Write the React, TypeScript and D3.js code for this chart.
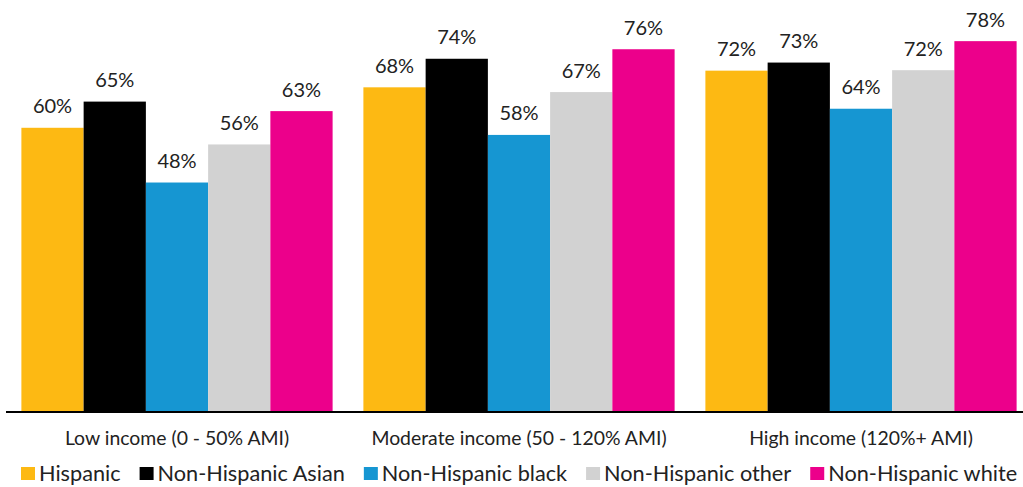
import React, { useEffect, useRef } from "react";
import * as d3 from "d3";

const categories = ["Low income (0 - 50% AMI)", "Moderate income (50 - 120% AMI)", "High income (120%+ AMI)"];
const series = ["Hispanic", "Non-Hispanic Asian", "Non-Hispanic black", "Non-Hispanic other", "Non-Hispanic white"];
const colors = ["#fdb913", "#000000", "#1696d2", "#d2d2d2", "#ec008b"];
const hispanic = [0.595, 0.68, 0.715];
const asian = [0.65, 0.74, 0.732];
const black = [0.48, 0.58, 0.635];
const other = [0.56, 0.67, 0.716];
const white = [0.63, 0.76, 0.777];
const labels = [
  ["60%", "68%", "72%"],
  ["65%", "74%", "73%"],
  ["48%", "58%", "64%"],
  ["56%", "67%", "72%"],
  ["63%", "76%", "78%"],
];

const W = 1023;
const H = 487;
const FONT = "Lato, 'Open Sans', sans-serif";

export default function App() {
  const ref = useRef<SVGSVGElement>(null);
  useEffect(() => {
    const svg = d3.select(ref.current);
    svg.selectAll("*").remove();
    const values = [hispanic, asian, black, other, white];
    const baseY = 411;
    const y = d3.scaleLinear().domain([0, 1]).range([baseY, baseY - 476]);
    const x0 = d3.scaleBand<string>().domain(categories).range([6, 1032]).paddingInner(0.09).paddingOuter(0.045);
    const x1 = d3.scaleBand<string>().domain(series).range([0, x0.bandwidth()]);

    const g = svg.append("g");
    categories.forEach((c, ci) => {
      series.forEach((s, si) => {
        const v = values[si][ci];
        const bx = (x0(c) as number) + (x1(s) as number);
        g.append("rect")
          .attr("x", bx)
          .attr("y", y(v))
          .attr("width", x1.bandwidth())
          .attr("height", baseY - y(v))
          .attr("fill", colors[si]);
        g.append("text")
          .attr("x", bx + x1.bandwidth() / 2)
          .attr("y", y(v) - 14.5)
          .attr("text-anchor", "middle")
          .attr("font-family", FONT)
          .attr("font-size", 20)
          .attr("fill", "#222")
          .text(labels[si][ci]);
      });
      g.append("text")
        .attr("x", (x0(c) as number) + x0.bandwidth() / 2)
        .attr("y", 445)
        .attr("text-anchor", "middle")
        .attr("font-family", FONT)
        .attr("font-size", 19.4)
        .attr("fill", "#222")
        .text(c);
    });

    g.append("line")
      .attr("x1", 6)
      .attr("x2", W)
      .attr("y1", baseY + 1)
      .attr("y2", baseY + 1)
      .attr("stroke", "#000")
      .attr("stroke-width", 2);

    // legend
    let lx = 21;
    series.forEach((s, si) => {
      const item = g.append("g");
      item.append("rect").attr("x", lx).attr("y", 467).attr("width", 14).attr("height", 13).attr("fill", colors[si]);
      const t = item
        .append("text")
        .attr("x", lx + 18)
        .attr("y", 481)
        .attr("font-family", FONT)
        .attr("font-size", 21.7)
        .attr("fill", "#222")
        .text(s);
      const len = (t.node() as SVGTextElement).getComputedTextLength();
      lx += 18 + len + 19;
    });
  }, []);
  return (
    <svg ref={ref} width={W} height={H} style={{ position: "absolute", left: 0, top: 0, background: "#fff" }} />
  );
}
